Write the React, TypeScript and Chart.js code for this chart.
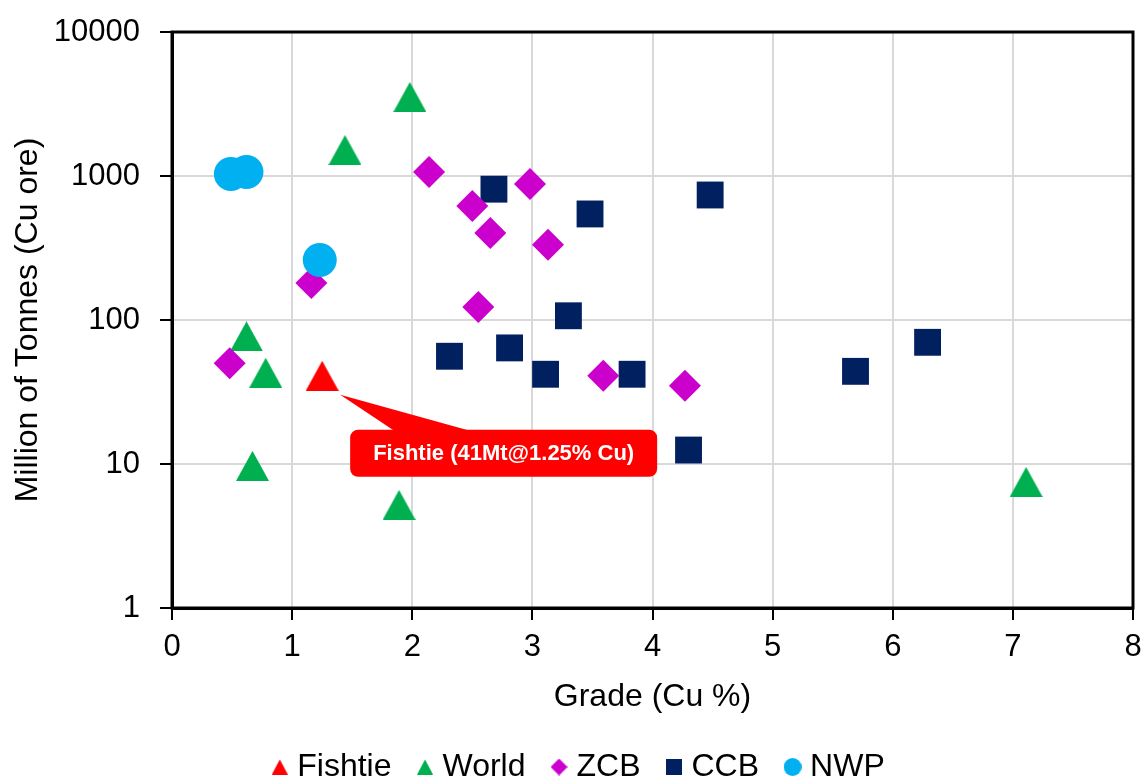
import React, { useEffect, useRef } from "react";
import { Chart, registerables } from "chart.js";

Chart.register(...registerables);

// ---------------- data ----------------
const SERIES_NAMES = ["Fishtie", "World", "ZCB", "CCB", "NWP"];

const fishtieGrade = [1.25];
const fishtieTonnes = [41];

const worldGrade = [1.98, 1.44, 0.62, 0.78, 0.67, 1.89, 7.11];
const worldTonnes = [3540, 1515, 77, 43, 9.7, 5.2, 7.5];

const zcbGrade = [2.14, 2.5, 2.65, 2.98, 3.13, 1.16, 2.55, 0.48, 3.59, 4.27];
const zcbTonnes = [1066, 620, 402, 880, 333, 181, 123, 50, 41, 35];

const ccbGrade = [2.68, 3.48, 4.48, 3.3, 2.31, 2.81, 3.11, 3.83, 4.3, 5.69, 6.29];
const ccbTonnes = [810, 545, 738, 107, 56, 64, 42, 42, 12.5, 44, 70];

const nwpGrade = [0.49, 0.62, 1.23];
const nwpTonnes = [1033, 1066, 261];

const Y_TICKS = [1, 10, 100, 1000, 10000];
const X_MIN = 0;
const X_MAX = 8;

const X_TITLE = "Grade (Cu %)";
const Y_TITLE = "Million of Tonnes (Cu ore)";
const CALLOUT_TEXT = "Fishtie (41Mt@1.25% Cu)";

// ---------------- styles ----------------
const COLORS = ["#ff0000", "#00b050", "#cc00cc", "#002060", "#00b0f0"];
const FONT = "'Liberation Sans', Arial, Helvetica, sans-serif";

function makeMarker(shape: string, color: string, w: number, h: number) {
  const c = document.createElement("canvas");
  c.width = w;
  c.height = h;
  const ctx = c.getContext("2d")!;
  ctx.fillStyle = color;
  ctx.beginPath();
  if (shape === "triangle") {
    ctx.moveTo(w / 2, 0);
    ctx.lineTo(w, h);
    ctx.lineTo(0, h);
  } else if (shape === "diamond") {
    ctx.moveTo(w / 2, 0);
    ctx.lineTo(w, h / 2);
    ctx.lineTo(w / 2, h);
    ctx.lineTo(0, h / 2);
  } else if (shape === "square") {
    ctx.rect(0, 0, w, h);
  } else {
    ctx.arc(w / 2, h / 2, Math.min(w, h) / 2, 0, Math.PI * 2);
  }
  ctx.closePath();
  ctx.fill();
  return c;
}

function toPoints(xs: number[], ys: number[]) {
  return xs.map((x, i) => ({ x, y: ys[i] }));
}

const framePlugin = {
  id: "frame",
  beforeDatasetsDraw(chart: any) {
    const { ctx, chartArea: a } = chart;
    ctx.save();
    ctx.strokeStyle = "#000";
    ctx.lineWidth = 3;
    ctx.strokeRect(a.left, a.top, a.right - a.left, a.bottom - a.top);
    ctx.restore();
  },
};

const legendShiftPlugin = {
  id: "legendShift",
  afterLayout(chart: any) {
    const lg = chart.legend;
    if (lg) {
      lg.top += 13;
      lg.bottom += 13;
    }
  },
};

const calloutPlugin = {
  id: "callout",
  afterDatasetsDraw(chart: any) {
    const { ctx } = chart;
    const xs = chart.scales.x;
    const ys = chart.scales.y;
    const px = xs.getPixelForValue(fishtieGrade[0]);
    const py = ys.getPixelForValue(fishtieTonnes[0]);
    const left = px + 28;
    const top = py + 54;
    const w = 307;
    const h = 47;
    const r = 8;
    ctx.save();
    ctx.fillStyle = "#ff0000";
    ctx.beginPath();
    ctx.moveTo(px + 18, py + 19);
    ctx.lineTo(px + 155, top + 3);
    ctx.lineTo(px + 75, top + 3);
    ctx.closePath();
    ctx.fill();
    ctx.beginPath();
    ctx.moveTo(left + r, top);
    ctx.lineTo(left + w - r, top);
    ctx.arcTo(left + w, top, left + w, top + r, r);
    ctx.lineTo(left + w, top + h - r);
    ctx.arcTo(left + w, top + h, left + w - r, top + h, r);
    ctx.lineTo(left + r, top + h);
    ctx.arcTo(left, top + h, left, top + h - r, r);
    ctx.lineTo(left, top + r);
    ctx.arcTo(left, top, left + r, top, r);
    ctx.closePath();
    ctx.fill();
    ctx.fillStyle = "#ffffff";
    ctx.font = `bold 22px ${FONT}`;
    ctx.textAlign = "center";
    ctx.textBaseline = "middle";
    ctx.fillText(CALLOUT_TEXT, left + w / 2, top + h / 2 + 1);
    ctx.restore();
  },
};

export default function App() {
  const ref = useRef<HTMLCanvasElement | null>(null);

  useEffect(() => {
    if (!ref.current) return;
    Chart.defaults.font.family = FONT;
    Chart.defaults.color = "#000";

    const triBig0 = makeMarker("triangle", COLORS[0], 33, 30);
    const triBig1 = makeMarker("triangle", COLORS[1], 33, 30);
    const legendMarkers = [
      makeMarker("triangle", COLORS[0], 16, 15),
      makeMarker("triangle", COLORS[1], 16, 15),
      makeMarker("diamond", COLORS[2], 17, 17),
      makeMarker("square", COLORS[3], 16, 16),
      makeMarker("circle", COLORS[4], 18, 18),
    ];

    const chart = new Chart(ref.current, {
      type: "scatter",
      data: {
        datasets: [
          {
            label: SERIES_NAMES[0],
            data: toPoints(fishtieGrade, fishtieTonnes),
            pointStyle: triBig0 as any,
            backgroundColor: COLORS[0],
            borderWidth: 0,
            order: 0,
          },
          {
            label: SERIES_NAMES[1],
            data: toPoints(worldGrade, worldTonnes),
            pointStyle: triBig1 as any,
            backgroundColor: COLORS[1],
            borderWidth: 0,
            order: 3,
          },
          {
            label: SERIES_NAMES[2],
            data: toPoints(zcbGrade, zcbTonnes),
            pointStyle: "rectRot",
            pointRadius: 16,
            backgroundColor: COLORS[2],
            borderWidth: 0,
            order: 2,
          },
          {
            label: SERIES_NAMES[3],
            data: toPoints(ccbGrade, ccbTonnes),
            pointStyle: "rect",
            pointRadius: 19,
            backgroundColor: COLORS[3],
            borderWidth: 0,
            order: 4,
          },
          {
            label: SERIES_NAMES[4],
            data: toPoints(nwpGrade, nwpTonnes),
            pointStyle: "circle",
            pointRadius: 17,
            backgroundColor: COLORS[4],
            borderWidth: 0,
            order: 1,
          },
        ],
      },
      options: {
        responsive: false,
        animation: false,
        devicePixelRatio: 1,
        layout: { autoPadding: false, padding: { left: 30, top: 32, right: 11, bottom: 0 } },
        scales: {
          x: {
            type: "linear",
            min: X_MIN,
            max: X_MAX,
            afterFit: (s: any) => {
              s.height = 98;
              s.paddingLeft = 0;
              s.paddingRight = 0;
            },
            ticks: {
              stepSize: 1,
              font: { size: 31 },
              color: "#000",
              padding: 9,
            },
            grid: {
              color: "#d9d9d9",
              lineWidth: 2,
              drawTicks: true,
              tickLength: 12,
              tickColor: "#000",
              tickWidth: 2,
            },
            border: { display: true, color: "#000", width: 3 },
            title: {
              display: true,
              text: X_TITLE,
              font: { size: 32 },
              color: "#000",
              padding: { top: 0, bottom: -10 },
            },
          },
          y: {
            type: "logarithmic",
            min: Y_TICKS[0],
            max: Y_TICKS[Y_TICKS.length - 1],
            afterFit: (s: any) => {
              s.width = 142;
              s.paddingTop = 0;
              s.paddingBottom = 0;
            },
            afterBuildTicks: (s: any) => {
              s.ticks = Y_TICKS.map((v) => ({ value: v }));
            },
            ticks: {
              font: { size: 31 },
              color: "#000",
              padding: 20,
              callback: (v: any) => String(v),
            },
            grid: {
              color: "#d9d9d9",
              lineWidth: 2,
              drawTicks: true,
              tickLength: 12,
              tickColor: "#000",
              tickWidth: 2,
            },
            border: { display: true, color: "#000", width: 3 },
            title: {
              display: true,
              text: Y_TITLE,
              font: { size: 32 },
              color: "#000",
              padding: { top: -21, bottom: 0 },
            },
          },
        },
        plugins: {
          tooltip: { enabled: false },
          legend: {
            display: true,
            position: "bottom",
            labels: {
              usePointStyle: true,
              boxWidth: 3,
              boxHeight: 3,
              padding: 32,
              color: "#000",
              font: { size: 32 },
              sort: (a: any, b: any) => a.datasetIndex - b.datasetIndex,
              generateLabels: (c: any) => {
                const items = (Chart.defaults.plugins.legend.labels as any).generateLabels(c);
                return items.map((it: any) => ({
                  ...it,
                  pointStyle: legendMarkers[it.datasetIndex],
                  lineWidth: 0,
                }));
              },
            },
          },
        },
      } as any,
      plugins: [framePlugin, legendShiftPlugin, calloutPlugin],
    });

    return () => chart.destroy();
  }, []);

  return (
    <div style={{ position: "absolute", left: 0, top: 0, width: 1144, height: 780 }}>
      <canvas ref={ref} width={1144} height={780} style={{ display: "block" }} />
    </div>
  );
}
